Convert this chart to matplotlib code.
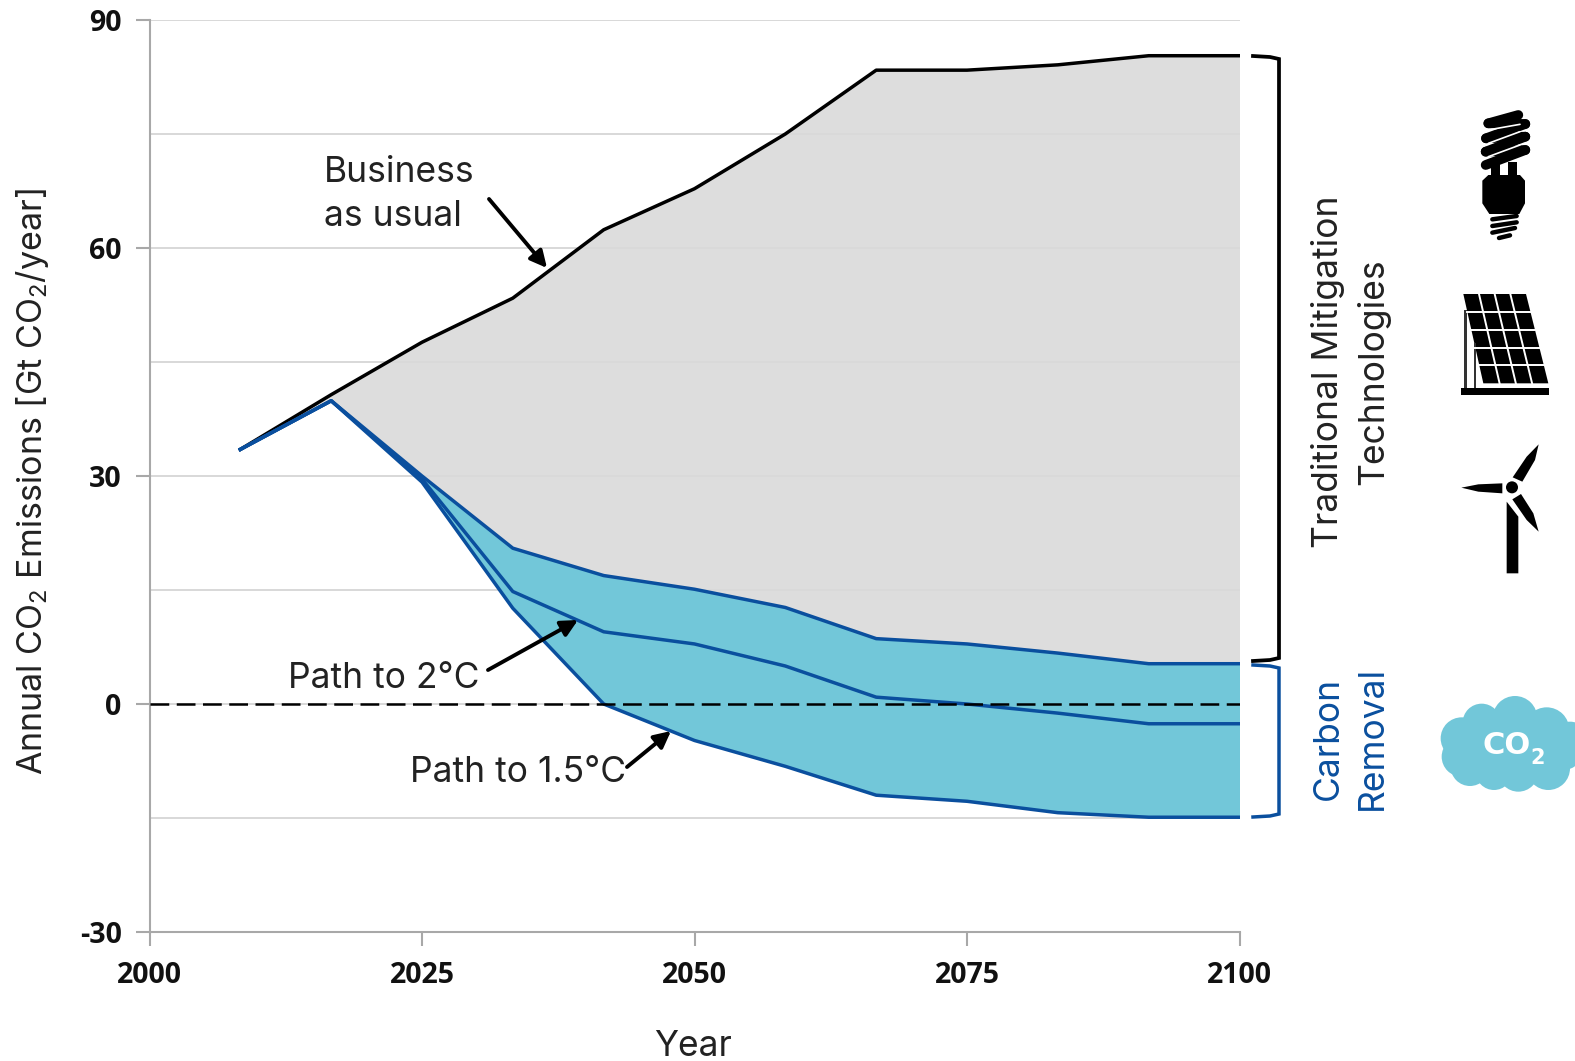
import matplotlib
matplotlib.use('Agg')
import matplotlib.pyplot as plt
from matplotlib.patches import Polygon, Circle

plt.rcParams['font.family'] = 'Inter'
plt.rcParams['mathtext.default'] = 'regular'
plt.rcParams['axes.unicode_minus'] = False

years = [2008.33, 2016.67, 2025, 2033.33, 2041.67, 2050, 2058.33, 2066.67, 2075, 2083.33, 2091.67, 2100]
bau = [33.5, 40.7, 47.6, 53.4, 62.4, 67.8, 75, 83.4, 83.4, 84.1, 85.3, 85.3]
path_top = [33.5, 39.9, 30, 20.5, 16.9, 15.1, 12.7, 8.6, 7.9, 6.7, 5.3, 5.3]
path_2c = [33.5, 39.9, 29.6, 14.8, 9.5, 7.9, 5.0, 0.9, 0, -1.2, -2.6, -2.6]
path_15c = [33.5, 39.9, 29.2, 12.6, 0, -4.8, -8.2, -12, -12.8, -14.3, -14.9, -14.9]
x_ticks = [2000, 2025, 2050, 2075, 2100]
y_ticks = [-30, 0, 30, 60, 90]
y_minor = [-15, 15, 45, 75]

TEAL = '#72C7D9'
BLUE = '#0A4F9E'
GRID = '#D2D2D2'

W, H = 1575, 1061
fig = plt.figure(figsize=(W / 100, H / 100), dpi=100)
ax = fig.add_axes([149.5 / W, 1 - 932 / H, (1239.5 - 149.5) / W, (932 - 20) / H])

ax.fill_between(years, path_top, bau, color='#DADADA', alpha=0.9, lw=0, zorder=2)
ax.fill_between(years[1:], path_15c[1:], path_top[1:], color=TEAL, lw=0, zorder=3)
ax.plot(years, bau, color='black', lw=2.5, zorder=4)
ax.plot(years, path_top, color=BLUE, lw=2.5, zorder=5)
ax.plot(years, path_2c, color=BLUE, lw=2.5, zorder=5)
ax.plot(years, path_15c, color=BLUE, lw=2.5, zorder=5)
ax.plot([2000, 2100], [0, 0], color='black', lw=1.8, dashes=(7.5, 3), zorder=6)

ax.set_xlim(2000, 2100)
ax.set_ylim(-30, 90)
ax.set_xticks(x_ticks)
ax.set_yticks(y_ticks)
ax.set_yticks(y_minor, minor=True)
ax.grid(True, which='both', axis='y', color=GRID, lw=1.2, zorder=1)
ax.set_axisbelow(True)
ax.tick_params(axis='x', which='major', color='#A8A8A8', length=10, width=1.5, pad=11)
ax.tick_params(axis='y', which='major', color='#A8A8A8', length=10, width=1.5, pad=10)
ax.tick_params(axis='y', which='minor', length=0)
for s in ['top', 'right']:
    ax.spines[s].set_visible(False)
for s in ['left', 'bottom']:
    ax.spines[s].set_color('#A8A8A8')
    ax.spines[s].set_linewidth(1.5)
for lab in ax.get_xticklabels() + ax.get_yticklabels():
    lab.set_fontfamily('Open Sans')
    lab.set_fontweight('bold')
    lab.set_fontsize(20.5)
    lab.set_color('#111111')

# overlay in pixels for text, brackets and icons
ov = fig.add_axes([0, 0, 1, 1], zorder=10)
ov.set_xlim(0, W)
ov.set_ylim(H, 0)
ov.axis('off')
ov.patch.set_alpha(0)

TXT = dict(fontsize=25.5, fontweight='normal', color='#222222')
ov.text(33, 482, 'Annual CO$_2$ Emissions [Gt CO$_2$/year]', rotation=90, ha='center', va='center',
        fontsize=24.5, color='#222222')
ov.text(693, 1047, 'Year', ha='center', va='center', **TXT)
ov.text(324, 194.5, 'Business\nas usual', ha='left', va='center', linespacing=1.45, **TXT)
ov.text(288, 678, 'Path to 2°C', ha='left', va='center', **TXT)
ov.text(410, 772, 'Path to 1.5°C', ha='left', va='center', **TXT)
ov.text(1351, 372, 'Traditional Mitigation\nTechnologies', rotation=90, ha='center', va='center',
        linespacing=1.42, **TXT)
ov.text(1350, 738, 'Carbon\nRemoval', rotation=90, ha='center', va='center', linespacing=1.42,
        fontsize=25.5, color=BLUE)

ARROW = dict(arrowstyle='-|>', color='black', lw=2.8, mutation_scale=25, shrinkA=0, shrinkB=0)
ov.annotate('', xy=(547, 268), xytext=(489, 199), arrowprops=ARROW)
ov.annotate('', xy=(578, 620), xytext=(488, 670), arrowprops=ARROW)
ov.annotate('', xy=(671, 731), xytext=(627, 767), arrowprops=ARROW)


def bracket(y0, y1, color, lw):
    ov.plot([1253, 1270, 1279, 1279, 1270, 1253], [y0, y0 + 1, y0 + 3, y1 - 3, y1 - 1, y1],
            color=color, lw=lw, solid_joinstyle='miter')


bracket(56, 661, 'black', 2.7)
bracket(665, 817, BLUE, 2.5)


def z1(x, y):
    return 1420 + x / 3, 90 + y / 3


def z2(x, y):
    return 1420 + x / 3, 650 + y / 3


def poly(pts, color='black', f=z1):
    ov.add_patch(Polygon([f(*p) for p in pts], closed=True, fc=color, ec='none'))


def stroke(a, b, lw, color='black'):
    p, q = z1(*a), z1(*b)
    ov.plot([p[0], q[0]], [p[1], q[1]], color=color, lw=lw, solid_capstyle='round')


# bulb
for a, b in [((205, 100), (295, 75)), ((205, 100), (316, 102)), ((198, 145), (316, 102)),
             ((198, 145), (316, 140)), ((197, 185), (316, 140)), ((197, 185), (316, 180)), ((197, 225), (316, 180))]:
    stroke(a, b, 7)
for a, b in [((215, 118), (300, 103)), ((205, 160), (300, 125)), ((205, 200), (300, 165))]:
    stroke(a, b, 1.2, color='white')
poly([(212, 215), (240, 215), (240, 258), (212, 258)])
poly([(265, 215), (290, 215), (290, 258), (265, 258)])
poly([(205, 255), (300, 255), (315, 272), (315, 340), (298, 372), (208, 372), (187, 340), (187, 272)])
for a, b in [((217, 388), (290, 378)), ((217, 408), (290, 397)), ((217, 428), (285, 414)), ((237, 444), (270, 436))]:
    stroke(a, b, 3.2)

# solar panel
tl, tr, br, bl = (130, 612), (318, 612), (385, 880), (190, 880)


def panel_pt(u, v):
    xa = tl[0] + (bl[0] - tl[0]) * v
    xb = tr[0] + (br[0] - tr[0]) * v
    return xa + (xb - xa) * u, tl[1] + (bl[1] - tl[1]) * v


poly([tl, tr, br, bl])
for i in range(1, 4):
    p, q = z1(*panel_pt(i / 4, 0)), z1(*panel_pt(i / 4, 1))
    ov.plot([p[0], q[0]], [p[1], q[1]], color='white', lw=1.4)
for j in range(1, 5):
    p, q = z1(*panel_pt(0, j / 5)), z1(*panel_pt(1, j / 5))
    ov.plot([p[0], q[0]], [p[1], q[1]], color='white', lw=1.4)
poly([(133, 660), (140, 660), (140, 893), (133, 893)], color='#333333')
poly([(162, 760), (169, 760), (169, 893), (162, 893)], color='#333333')
poly([(124, 893), (388, 893), (388, 914), (124, 914)])

# wind turbine
poly([(260, 1235), (295, 1280), (295, 1450), (260, 1450)])
poly([(278, 1162), (307, 1175), (345, 1110), (356, 1063), (320, 1100)])
poly([(247, 1180), (247, 1210), (175, 1205), (124, 1193), (175, 1183)])
poly([(277, 1228), (303, 1212), (340, 1270), (356, 1325), (320, 1290)])
ov.add_patch(Circle(z1(276, 1192), 6, fc='black', ec='none'))

# CO2 cloud
puffs = [(125, 265, 63), (185, 218, 57), (285, 205, 67), (380, 240, 68), (450, 275, 60), (125, 320, 60),
         (150, 350, 58), (222, 365, 55), (295, 365, 60), (385, 355, 65), (430, 300, 60), (280, 290, 95),
         (190, 290, 80), (370, 290, 80)]
for cx, cy, r in puffs:
    ov.add_patch(Circle(z2(cx, cy), r / 3, fc=TEAL, ec='none'))
ov.text(*z2(260, 287), 'CO', color='white', fontsize=22, fontweight='bold', family='DejaVu Sans', ha='center', va='center')
ov.text(*z2(353, 325), '2', color='white', fontsize=15, fontweight='bold', family='DejaVu Sans', ha='center', va='center')

fig.savefig('out.png', dpi=100)
